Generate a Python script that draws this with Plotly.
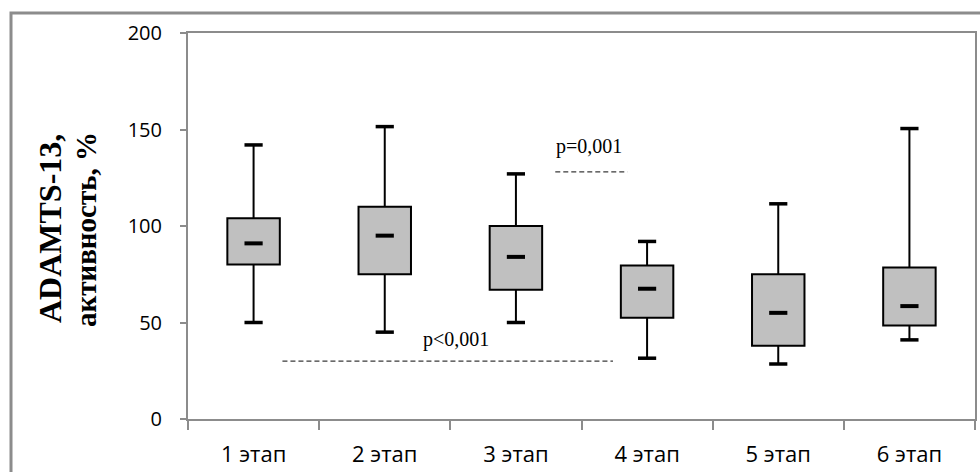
import plotly.graph_objects as go

# ---- data ----
stages = ["1 этап", "2 этап", "3 этап", "4 этап", "5 этап", "6 этап"]
minimum = [50, 45, 50, 31.5, 28.5, 41]
q1 = [80, 75, 67, 52.5, 38, 48.5]
median = [91, 95, 84, 67.5, 55, 58.5]
q3 = [104, 110, 100, 79.5, 75, 78.5]
maximum = [142, 151.5, 127, 92, 111.5, 150.5]

# significance brackets: (x from, x to in category index units, y level, label, label x, label y)
sig_labels = ["p<0,001", "p=0,001"]
sig_x0 = [0.22, 2.30]
sig_x1 = [2.74, 2.85]
sig_y = [30, 128]
sig_label_x = [1.54, 2.56]
sig_label_y = [41, 141]

fig = go.Figure()

# boxes (q1..q3)
fig.add_trace(go.Bar(
    x=stages, y=[b - a for a, b in zip(q1, q3)], base=q1, width=0.4,
    marker=dict(color="#C0C0C0", line=dict(color="black", width=2)),
    showlegend=False, hoverinfo="skip"))

# whiskers
wx, wy = [], []
for s, lo, a, b, hi in zip(stages, minimum, q1, q3, maximum):
    wx += [s, s, None, s, s, None]
    wy += [lo, a, None, b, hi, None]
fig.add_trace(go.Scatter(x=wx, y=wy, mode="lines",
                         line=dict(color="black", width=2),
                         showlegend=False, hoverinfo="skip"))

# caps
fig.add_trace(go.Scatter(
    x=stages + stages, y=minimum + maximum, mode="markers",
    marker=dict(symbol="line-ew", size=13, line=dict(color="black", width=3.5)),
    showlegend=False, hoverinfo="skip"))

# medians
fig.add_trace(go.Scatter(
    x=stages, y=median, mode="markers",
    marker=dict(symbol="line-ew", size=13, line=dict(color="black", width=4)),
    showlegend=False, hoverinfo="skip"))

# significance lines + labels
for lab, x0, x1, y, lx, ly in zip(sig_labels, sig_x0, sig_x1, sig_y, sig_label_x, sig_label_y):
    fig.add_shape(type="line", xref="x", yref="y", x0=x0, x1=x1, y0=y, y1=y,
                  line=dict(color="#3a3a3a", width=1.2, dash="5px,3px"))
    fig.add_annotation(x=lx, y=ly, xref="x", yref="y", text=lab, showarrow=False,
                       font=dict(family="Liberation Serif", size=20, color="black"))

axis_gray = "#8C8C8C"

# outer frame (extends beyond page right/bottom as in the reference)
fig.add_shape(type="rect", xref="paper", yref="paper",
              x0=-0.2249, x1=1.15, y0=-0.4, y1=1.0518,
              line=dict(color=axis_gray, width=3), fillcolor="rgba(0,0,0,0)")

# y-axis title (two lines)
fig.add_annotation(xref="paper", yref="paper", x=(50 - 188) / 787, y=(419 - 229) / 386,
                   text="<b>ADAMTS-13,</b>", textangle=-90, showarrow=False,
                   xanchor="center", yanchor="middle",
                   font=dict(family="Liberation Serif", size=32, color="black"))
fig.add_annotation(xref="paper", yref="paper", x=(86 - 188) / 787, y=(419 - 230) / 386,
                   text="<b>активность,\u00a0%</b>", textangle=-90, showarrow=False,
                   xanchor="center", yanchor="middle",
                   font=dict(family="Liberation Serif", size=29, color="black"))

fig.update_layout(
    width=980, height=472,
    margin=dict(l=188, r=5, t=33, b=53),
    paper_bgcolor="white", plot_bgcolor="white",
    font=dict(family="Open Sans", size=18, color="black"),
    xaxis=dict(
        type="category", categoryorder="array", categoryarray=stages,
        range=[-0.5, 5.5], showgrid=False, zeroline=False, automargin=False,
        showline=True, linecolor=axis_gray, linewidth=2, mirror=True,
        ticks="outside", tickson="boundaries", ticklen=9, tickcolor=axis_gray, tickwidth=2,
        ticklabelstandoff=15,
        tickfont=dict(family="Open Sans", size=22, color="black"),
    ),
    yaxis=dict(
        range=[0, 200], tickvals=[0, 50, 100, 150, 200],
        showgrid=False, zeroline=False, automargin=False,
        showline=True, linecolor=axis_gray, linewidth=2, mirror=True,
        ticks="outside", ticklen=6, tickcolor=axis_gray, tickwidth=2,
        ticklabelstandoff=14,
        tickfont=dict(family="Open Sans", size=20, color="black"),
    ),
)

fig.write_html("out.html")
